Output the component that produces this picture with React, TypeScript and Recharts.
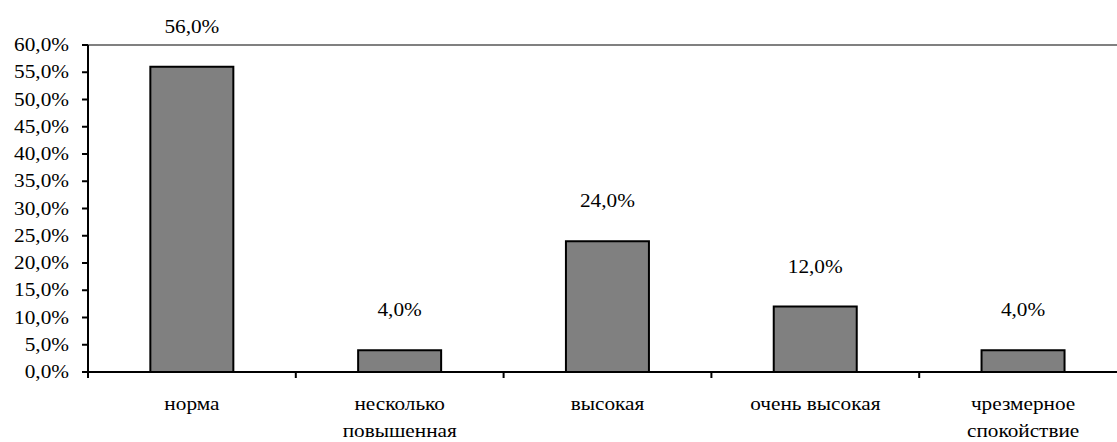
import { BarChart, Bar, XAxis, YAxis, ReferenceLine, LabelList } from "recharts";

const categories = [
  "норма",
  "несколько\nповышенная",
  "высокая",
  "очень высокая",
  "чрезмерное\nспокойствие",
];
const values = [56, 4, 24, 12, 4];
const yTicks = [0, 5, 10, 15, 20, 25, 30, 35, 40, 45, 50, 55, 60];

const data = categories.map((name, i) => ({ name, value: values[i] }));

const FONT = "Liberation Serif, Times New Roman, serif";
const FS = 19;
const SX = 1.12; // the source text is a little wider than Times
const fmt = (v: number) => `${Number(v).toFixed(1).replace(".", ",")}%`;

function WideText({ x, y, anchor, children }: any) {
  return (
    <g transform={`translate(${x},${y}) scale(${SX},1)`}>
      <text x={0} y={0} textAnchor={anchor} fontSize={FS} fontFamily={FONT} fill="#000">
        {children}
      </text>
    </g>
  );
}

function CategoryTick(props: any) {
  const { x, y, payload, index, visibleTicksCount } = props;
  const half = payload?.offset ?? 104;
  const lines = String(payload.value).split("\n");
  const axisY = y - 8;
  return (
    <g>
      <line x1={x - half} x2={x - half} y1={axisY} y2={axisY + 6} stroke="#000" strokeWidth={2} />
      {index === visibleTicksCount - 1 && (
        <line x1={x + half} x2={x + half} y1={axisY} y2={axisY + 6} stroke="#000" strokeWidth={2} />
      )}
      {lines.map((l, i) => (
        <WideText key={i} x={x} y={axisY + 38 + i * 27} anchor="middle">
          {l}
        </WideText>
      ))}
    </g>
  );
}

function ValueTick(props: any) {
  const { x, y, payload } = props;
  return (
    <WideText x={x} y={y + 6} anchor="end">
      {fmt(payload.value)}
    </WideText>
  );
}

function TopLabel(props: any) {
  const { x, y, width, value } = props;
  return (
    <WideText x={x + width / 2} y={y - 34} anchor="middle">
      {fmt(value)}
    </WideText>
  );
}

export default function App() {
  return (
    <div
      style={{
        position: "absolute",
        left: 0,
        top: 0,
        width: 1117,
        height: 442,
        overflow: "hidden",
        background: "#fff",
      }}
    >
      <BarChart
        width={1140}
        height={442}
        data={data}
        margin={{ top: 45, right: 13, left: 0, bottom: 0 }}
        barCategoryGap="30%"
      >
        <ReferenceLine y={60} stroke="#808080" strokeWidth={2} />
        <XAxis
          dataKey="name"
          height={70}
          interval={0}
          tickLine={false}
          axisLine={{ stroke: "#000", strokeWidth: 2 }}
          tick={<CategoryTick />}
        />
        <YAxis
          width={88}
          domain={[0, 60]}
          ticks={yTicks}
          interval={0}
          axisLine={{ stroke: "#000", strokeWidth: 2 }}
          tickLine={{ stroke: "#000", strokeWidth: 2 }}
          tickSize={6}
          tickMargin={13}
          tick={<ValueTick />}
        />
        <Bar dataKey="value" fill="#808080" stroke="#000" strokeWidth={2} isAnimationActive={false}>
          <LabelList dataKey="value" content={<TopLabel />} />
        </Bar>
      </BarChart>
    </div>
  );
}
